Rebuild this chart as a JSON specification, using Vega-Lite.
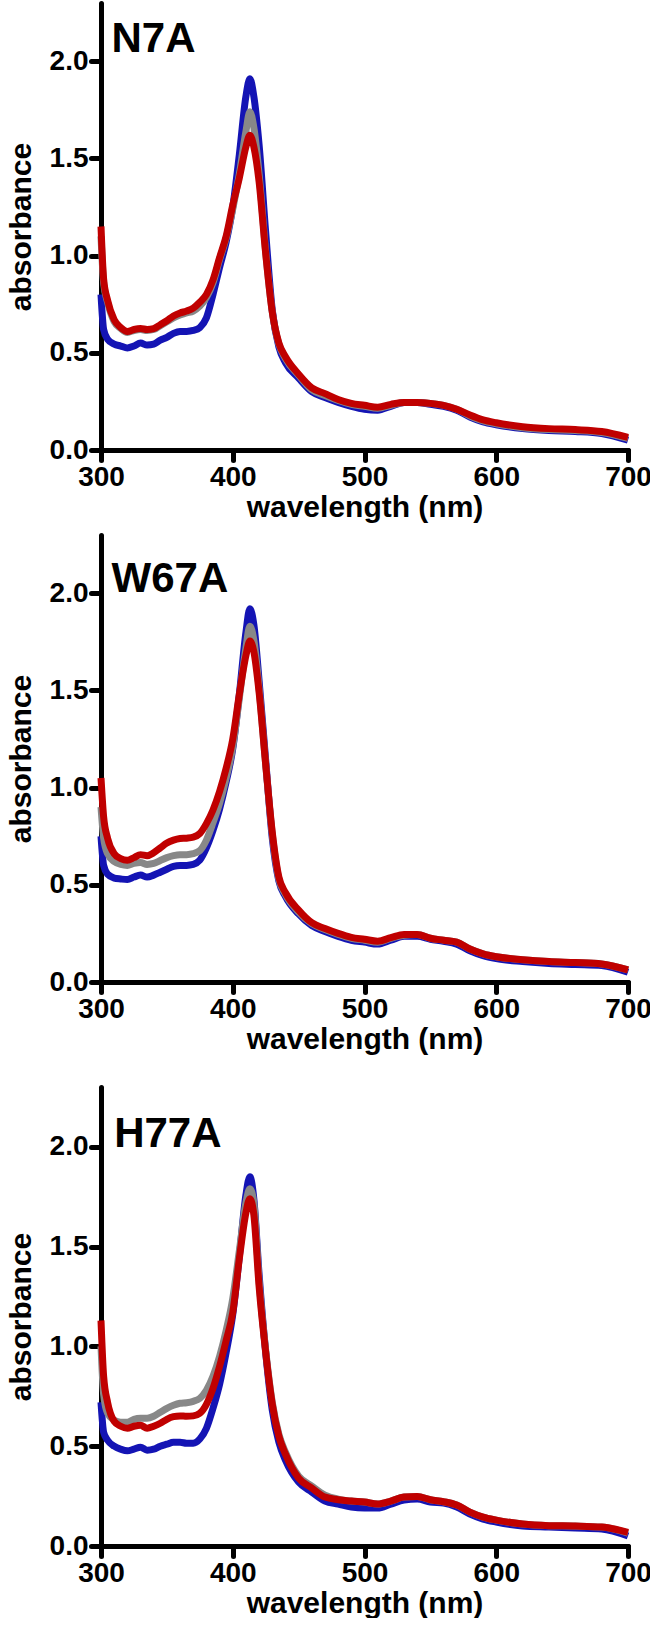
{
"$schema": "https://vega.github.io/schema/vega-lite/v6.json",
"padding": {"left": 6, "top": 3, "right": 0, "bottom": 0},
"background": "white",
"config": {
  "view": {"stroke": null},
  "font": "Liberation Sans",
  "axis": {"domainColor": "black", "domainWidth": 5, "tickColor": "black", "tickWidth": 5, "tickSize": 10, "labelFont": "Liberation Sans", "labelFontWeight": "bold", "labelFontSize": 28, "labelColor": "black", "labelFlush": false, "labelOverlap": false, "titleFont": "Liberation Sans", "titleFontWeight": "bold", "titleFontSize": 30, "titleColor": "black", "grid": false, "labelPadding": 3, "tickCap": "round", "domainCap": "round"},
  "axisX": {"titlePadding": 1},
  "axisY": {"titlePadding": 13},
  "line": {"strokeWidth": 7, "interpolate": "monotone"}
},
"datasets": {"spec": [
{"panel":"N7A","nm":300,"blue":0.80,"grey":1.10,"red":1.15},
{"panel":"N7A","nm":302,"blue":0.62,"grey":0.86,"red":0.88},
{"panel":"N7A","nm":305,"blue":0.57,"grey":0.76,"red":0.77},
{"panel":"N7A","nm":310,"blue":0.545,"grey":0.66,"red":0.67},
{"panel":"N7A","nm":315,"blue":0.535,"grey":0.625,"red":0.63},
{"panel":"N7A","nm":320,"blue":0.525,"grey":0.605,"red":0.61},
{"panel":"N7A","nm":325,"blue":0.535,"grey":0.615,"red":0.62},
{"panel":"N7A","nm":330,"blue":0.55,"grey":0.62,"red":0.625},
{"panel":"N7A","nm":335,"blue":0.54,"grey":0.615,"red":0.62},
{"panel":"N7A","nm":340,"blue":0.545,"grey":0.62,"red":0.625},
{"panel":"N7A","nm":345,"blue":0.565,"grey":0.64,"red":0.645},
{"panel":"N7A","nm":350,"blue":0.58,"grey":0.66,"red":0.665},
{"panel":"N7A","nm":355,"blue":0.60,"grey":0.68,"red":0.69},
{"panel":"N7A","nm":360,"blue":0.61,"grey":0.695,"red":0.705},
{"panel":"N7A","nm":365,"blue":0.61,"grey":0.705,"red":0.715},
{"panel":"N7A","nm":370,"blue":0.615,"grey":0.715,"red":0.73},
{"panel":"N7A","nm":375,"blue":0.63,"grey":0.74,"red":0.76},
{"panel":"N7A","nm":380,"blue":0.68,"grey":0.785,"red":0.80},
{"panel":"N7A","nm":385,"blue":0.80,"grey":0.86,"red":0.875},
{"panel":"N7A","nm":390,"blue":0.94,"grey":0.98,"red":0.99},
{"panel":"N7A","nm":395,"blue":1.07,"grey":1.09,"red":1.10},
{"panel":"N7A","nm":400,"blue":1.25,"grey":1.24,"red":1.26},
{"panel":"N7A","nm":405,"blue":1.52,"grey":1.42,"red":1.40},
{"panel":"N7A","nm":410,"blue":1.82,"grey":1.64,"red":1.56},
{"panel":"N7A","nm":413,"blue":1.91,"grey":1.74,"red":1.62},
{"panel":"N7A","nm":416,"blue":1.82,"grey":1.66,"red":1.56},
{"panel":"N7A","nm":420,"blue":1.57,"grey":1.42,"red":1.38},
{"panel":"N7A","nm":425,"blue":1.12,"grey":1.02,"red":1.01},
{"panel":"N7A","nm":430,"blue":0.72,"grey":0.71,"red":0.71},
{"panel":"N7A","nm":435,"blue":0.53,"grey":0.545,"red":0.55},
{"panel":"N7A","nm":440,"blue":0.45,"grey":0.47,"red":0.48},
{"panel":"N7A","nm":450,"blue":0.37,"grey":0.385,"red":0.39},
{"panel":"N7A","nm":460,"blue":0.30,"grey":0.31,"red":0.32},
{"panel":"N7A","nm":470,"blue":0.27,"grey":0.28,"red":0.29},
{"panel":"N7A","nm":480,"blue":0.245,"grey":0.255,"red":0.26},
{"panel":"N7A","nm":490,"blue":0.225,"grey":0.235,"red":0.24},
{"panel":"N7A","nm":500,"blue":0.21,"grey":0.225,"red":0.23},
{"panel":"N7A","nm":510,"blue":0.205,"grey":0.215,"red":0.22},
{"panel":"N7A","nm":520,"blue":0.225,"grey":0.23,"red":0.235},
{"panel":"N7A","nm":530,"blue":0.245,"grey":0.245,"red":0.245},
{"panel":"N7A","nm":540,"blue":0.245,"grey":0.245,"red":0.245},
{"panel":"N7A","nm":550,"blue":0.235,"grey":0.24,"red":0.24},
{"panel":"N7A","nm":560,"blue":0.225,"grey":0.23,"red":0.23},
{"panel":"N7A","nm":570,"blue":0.205,"grey":0.21,"red":0.21},
{"panel":"N7A","nm":580,"blue":0.17,"grey":0.175,"red":0.18},
{"panel":"N7A","nm":590,"blue":0.145,"grey":0.15,"red":0.155},
{"panel":"N7A","nm":600,"blue":0.13,"grey":0.135,"red":0.14},
{"panel":"N7A","nm":620,"blue":0.11,"grey":0.115,"red":0.12},
{"panel":"N7A","nm":640,"blue":0.10,"grey":0.105,"red":0.11},
{"panel":"N7A","nm":660,"blue":0.095,"grey":0.10,"red":0.105},
{"panel":"N7A","nm":680,"blue":0.085,"grey":0.09,"red":0.095},
{"panel":"N7A","nm":700,"blue":0.05,"grey":0.06,"red":0.065},
{"panel":"W67A","nm":300,"blue":0.75,"grey":0.90,"red":1.05},
{"panel":"W67A","nm":302,"blue":0.60,"grey":0.74,"red":0.85},
{"panel":"W67A","nm":305,"blue":0.555,"grey":0.66,"red":0.74},
{"panel":"W67A","nm":310,"blue":0.535,"grey":0.62,"red":0.66},
{"panel":"W67A","nm":315,"blue":0.53,"grey":0.605,"red":0.635},
{"panel":"W67A","nm":320,"blue":0.527,"grey":0.60,"red":0.627},
{"panel":"W67A","nm":325,"blue":0.54,"grey":0.61,"red":0.64},
{"panel":"W67A","nm":330,"blue":0.55,"grey":0.615,"red":0.655},
{"panel":"W67A","nm":335,"blue":0.54,"grey":0.605,"red":0.65},
{"panel":"W67A","nm":340,"blue":0.55,"grey":0.61,"red":0.665},
{"panel":"W67A","nm":345,"blue":0.565,"grey":0.625,"red":0.69},
{"panel":"W67A","nm":350,"blue":0.58,"grey":0.64,"red":0.715},
{"panel":"W67A","nm":355,"blue":0.595,"grey":0.65,"red":0.73},
{"panel":"W67A","nm":360,"blue":0.60,"grey":0.655,"red":0.738},
{"panel":"W67A","nm":365,"blue":0.60,"grey":0.655,"red":0.74},
{"panel":"W67A","nm":370,"blue":0.605,"grey":0.66,"red":0.745},
{"panel":"W67A","nm":375,"blue":0.627,"grey":0.676,"red":0.764},
{"panel":"W67A","nm":380,"blue":0.69,"grey":0.73,"red":0.815},
{"panel":"W67A","nm":385,"blue":0.78,"grey":0.82,"red":0.885},
{"panel":"W67A","nm":390,"blue":0.89,"grey":0.92,"red":0.98},
{"panel":"W67A","nm":395,"blue":1.03,"grey":1.05,"red":1.10},
{"panel":"W67A","nm":400,"blue":1.20,"grey":1.21,"red":1.25},
{"panel":"W67A","nm":405,"blue":1.48,"grey":1.46,"red":1.48},
{"panel":"W67A","nm":410,"blue":1.80,"grey":1.72,"red":1.68},
{"panel":"W67A","nm":413,"blue":1.92,"grey":1.83,"red":1.755},
{"panel":"W67A","nm":416,"blue":1.84,"grey":1.76,"red":1.70},
{"panel":"W67A","nm":420,"blue":1.55,"grey":1.51,"red":1.49},
{"panel":"W67A","nm":425,"blue":1.14,"grey":1.12,"red":1.12},
{"panel":"W67A","nm":430,"blue":0.74,"grey":0.76,"red":0.77},
{"panel":"W67A","nm":435,"blue":0.52,"grey":0.53,"red":0.54},
{"panel":"W67A","nm":440,"blue":0.44,"grey":0.45,"red":0.46},
{"panel":"W67A","nm":450,"blue":0.35,"grey":0.36,"red":0.37},
{"panel":"W67A","nm":460,"blue":0.29,"grey":0.30,"red":0.305},
{"panel":"W67A","nm":470,"blue":0.26,"grey":0.27,"red":0.275},
{"panel":"W67A","nm":480,"blue":0.235,"grey":0.245,"red":0.25},
{"panel":"W67A","nm":490,"blue":0.215,"grey":0.225,"red":0.23},
{"panel":"W67A","nm":500,"blue":0.205,"grey":0.215,"red":0.22},
{"panel":"W67A","nm":510,"blue":0.195,"grey":0.205,"red":0.21},
{"panel":"W67A","nm":520,"blue":0.215,"grey":0.225,"red":0.228},
{"panel":"W67A","nm":530,"blue":0.235,"grey":0.24,"red":0.245},
{"panel":"W67A","nm":540,"blue":0.235,"grey":0.245,"red":0.245},
{"panel":"W67A","nm":550,"blue":0.22,"grey":0.225,"red":0.225},
{"panel":"W67A","nm":560,"blue":0.21,"grey":0.215,"red":0.215},
{"panel":"W67A","nm":570,"blue":0.195,"grey":0.205,"red":0.205},
{"panel":"W67A","nm":580,"blue":0.16,"grey":0.17,"red":0.17},
{"panel":"W67A","nm":590,"blue":0.135,"grey":0.145,"red":0.145},
{"panel":"W67A","nm":600,"blue":0.12,"grey":0.13,"red":0.13},
{"panel":"W67A","nm":620,"blue":0.105,"grey":0.115,"red":0.115},
{"panel":"W67A","nm":640,"blue":0.095,"grey":0.105,"red":0.105},
{"panel":"W67A","nm":660,"blue":0.09,"grey":0.10,"red":0.10},
{"panel":"W67A","nm":680,"blue":0.085,"grey":0.093,"red":0.093},
{"panel":"W67A","nm":700,"blue":0.05,"grey":0.062,"red":0.062},
{"panel":"H77A","nm":300,"blue":0.72,"grey":1.0,"red":1.13},
{"panel":"H77A","nm":302,"blue":0.57,"grey":0.76,"red":0.85},
{"panel":"H77A","nm":305,"blue":0.53,"grey":0.665,"red":0.72},
{"panel":"H77A","nm":310,"blue":0.50,"grey":0.63,"red":0.625},
{"panel":"H77A","nm":315,"blue":0.485,"grey":0.62,"red":0.60},
{"panel":"H77A","nm":320,"blue":0.477,"grey":0.62,"red":0.59},
{"panel":"H77A","nm":325,"blue":0.485,"grey":0.635,"red":0.60},
{"panel":"H77A","nm":330,"blue":0.495,"grey":0.64,"red":0.605},
{"panel":"H77A","nm":335,"blue":0.48,"grey":0.64,"red":0.59},
{"panel":"H77A","nm":340,"blue":0.485,"grey":0.65,"red":0.60},
{"panel":"H77A","nm":345,"blue":0.50,"grey":0.67,"red":0.615},
{"panel":"H77A","nm":350,"blue":0.51,"grey":0.69,"red":0.635},
{"panel":"H77A","nm":355,"blue":0.52,"grey":0.705,"red":0.648},
{"panel":"H77A","nm":360,"blue":0.52,"grey":0.715,"red":0.652},
{"panel":"H77A","nm":365,"blue":0.515,"grey":0.718,"red":0.65},
{"panel":"H77A","nm":370,"blue":0.515,"grey":0.725,"red":0.652},
{"panel":"H77A","nm":375,"blue":0.536,"grey":0.74,"red":0.665},
{"panel":"H77A","nm":380,"blue":0.59,"grey":0.78,"red":0.71},
{"panel":"H77A","nm":385,"blue":0.69,"grey":0.85,"red":0.79},
{"panel":"H77A","nm":390,"blue":0.81,"grey":0.95,"red":0.90},
{"panel":"H77A","nm":395,"blue":0.97,"grey":1.08,"red":1.03},
{"panel":"H77A","nm":400,"blue":1.16,"grey":1.24,"red":1.17},
{"panel":"H77A","nm":405,"blue":1.45,"grey":1.48,"red":1.44},
{"panel":"H77A","nm":410,"blue":1.76,"grey":1.72,"red":1.67},
{"panel":"H77A","nm":413,"blue":1.85,"grey":1.79,"red":1.74},
{"panel":"H77A","nm":416,"blue":1.74,"grey":1.72,"red":1.66},
{"panel":"H77A","nm":420,"blue":1.36,"grey":1.33,"red":1.30},
{"panel":"H77A","nm":425,"blue":0.97,"grey":0.98,"red":0.97},
{"panel":"H77A","nm":430,"blue":0.68,"grey":0.72,"red":0.71},
{"panel":"H77A","nm":435,"blue":0.52,"grey":0.56,"red":0.55},
{"panel":"H77A","nm":440,"blue":0.43,"grey":0.47,"red":0.46},
{"panel":"H77A","nm":450,"blue":0.32,"grey":0.35,"red":0.34},
{"panel":"H77A","nm":460,"blue":0.27,"grey":0.30,"red":0.29},
{"panel":"H77A","nm":470,"blue":0.225,"grey":0.255,"red":0.245},
{"panel":"H77A","nm":480,"blue":0.21,"grey":0.235,"red":0.232},
{"panel":"H77A","nm":490,"blue":0.195,"grey":0.225,"red":0.225},
{"panel":"H77A","nm":500,"blue":0.19,"grey":0.22,"red":0.22},
{"panel":"H77A","nm":510,"blue":0.19,"grey":0.21,"red":0.21},
{"panel":"H77A","nm":520,"blue":0.21,"grey":0.225,"red":0.225},
{"panel":"H77A","nm":530,"blue":0.23,"grey":0.245,"red":0.245},
{"panel":"H77A","nm":540,"blue":0.235,"grey":0.248,"red":0.248},
{"panel":"H77A","nm":550,"blue":0.22,"grey":0.232,"red":0.232},
{"panel":"H77A","nm":560,"blue":0.215,"grey":0.222,"red":0.222},
{"panel":"H77A","nm":570,"blue":0.195,"grey":0.205,"red":0.205},
{"panel":"H77A","nm":580,"blue":0.16,"grey":0.17,"red":0.17},
{"panel":"H77A","nm":590,"blue":0.135,"grey":0.145,"red":0.145},
{"panel":"H77A","nm":600,"blue":0.12,"grey":0.13,"red":0.13},
{"panel":"H77A","nm":620,"blue":0.10,"grey":0.11,"red":0.11},
{"panel":"H77A","nm":640,"blue":0.095,"grey":0.102,"red":0.102},
{"panel":"H77A","nm":660,"blue":0.09,"grey":0.10,"red":0.10},
{"panel":"H77A","nm":680,"blue":0.085,"grey":0.095,"red":0.095},
{"panel":"H77A","nm":700,"blue":0.05,"grey":0.065,"red":0.068}
]},
"spacing": 33,
"vconcat": [
 {"spacing": 13, "vconcat": [
  {"width": 527, "height": 447, "data": {"name": "spec"},
   "transform": [{"filter": "datum.panel === 'N7A'"}],
   "layer": [
    {"mark": {"type": "line", "color": "#1414b4"}, "encoding": {"x": {"field": "nm", "type": "quantitative", "scale": {"domain": [300, 700], "nice": false}, "axis": {"values": [300, 400, 500, 600, 700], "title": "wavelength (nm)"}}, "y": {"field": "blue", "type": "quantitative", "title": "absorbance", "scale": {"domain": [0, 2.3], "nice": false}, "axis": {"values": [0, 0.5, 1, 1.5, 2], "format": ".1f"}}}},
    {"mark": {"type": "line", "color": "#888888"}, "encoding": {"x": {"field": "nm", "type": "quantitative", "title": "wavelength (nm)"}, "y": {"field": "grey", "type": "quantitative", "title": "absorbance"}}},
    {"mark": {"type": "line", "color": "#c00000"}, "encoding": {"x": {"field": "nm", "type": "quantitative", "title": "wavelength (nm)"}, "y": {"field": "red", "type": "quantitative", "title": "absorbance"}}},
    {"transform": [{"filter": "datum.nm === 300"}], "mark": {"type": "text", "align": "left", "baseline": "alphabetic", "fontSize": 42, "fontWeight": "bold", "font": "Liberation Sans", "color": "black"}, "encoding": {"x": {"datum": 308, "type": "quantitative"}, "y": {"datum": 2.05, "type": "quantitative"}, "text": {"field": "panel"}}}
   ]},
  {"width": 527, "height": 447, "data": {"name": "spec"},
   "transform": [{"filter": "datum.panel === 'W67A'"}],
   "layer": [
    {"mark": {"type": "line", "color": "#1414b4"}, "encoding": {"x": {"field": "nm", "type": "quantitative", "scale": {"domain": [300, 700], "nice": false}, "axis": {"values": [300, 400, 500, 600, 700], "title": "wavelength (nm)"}}, "y": {"field": "blue", "type": "quantitative", "title": "absorbance", "scale": {"domain": [0, 2.3], "nice": false}, "axis": {"values": [0, 0.5, 1, 1.5, 2], "format": ".1f"}}}},
    {"mark": {"type": "line", "color": "#888888"}, "encoding": {"x": {"field": "nm", "type": "quantitative", "title": "wavelength (nm)"}, "y": {"field": "grey", "type": "quantitative", "title": "absorbance"}}},
    {"mark": {"type": "line", "color": "#c00000"}, "encoding": {"x": {"field": "nm", "type": "quantitative", "title": "wavelength (nm)"}, "y": {"field": "red", "type": "quantitative", "title": "absorbance"}}},
    {"transform": [{"filter": "datum.nm === 300"}], "mark": {"type": "text", "align": "left", "baseline": "alphabetic", "fontSize": 42, "fontWeight": "bold", "font": "Liberation Sans", "color": "black"}, "encoding": {"x": {"datum": 308, "type": "quantitative"}, "y": {"datum": 2.005, "type": "quantitative"}, "text": {"field": "panel"}}}
   ]}
 ]},
 {"width": 527, "height": 459, "data": {"name": "spec"},
  "transform": [{"filter": "datum.panel === 'H77A'"}],
  "layer": [
   {"mark": {"type": "line", "color": "#1414b4"}, "encoding": {"x": {"field": "nm", "type": "quantitative", "scale": {"domain": [300, 700], "nice": false}, "axis": {"values": [300, 400, 500, 600, 700], "title": "wavelength (nm)"}}, "y": {"field": "blue", "type": "quantitative", "title": "absorbance", "scale": {"domain": [0, 2.3], "nice": false}, "axis": {"values": [0, 0.5, 1, 1.5, 2], "format": ".1f"}}}},
   {"mark": {"type": "line", "color": "#888888"}, "encoding": {"x": {"field": "nm", "type": "quantitative", "title": "wavelength (nm)"}, "y": {"field": "grey", "type": "quantitative", "title": "absorbance"}}},
   {"mark": {"type": "line", "color": "#c00000"}, "encoding": {"x": {"field": "nm", "type": "quantitative", "title": "wavelength (nm)"}, "y": {"field": "red", "type": "quantitative", "title": "absorbance"}}},
   {"transform": [{"filter": "datum.nm === 300"}], "mark": {"type": "text", "align": "left", "baseline": "alphabetic", "fontSize": 42, "fontWeight": "bold", "font": "Liberation Sans", "color": "black"}, "encoding": {"x": {"datum": 310, "type": "quantitative"}, "y": {"datum": 2.0, "type": "quantitative"}, "text": {"field": "panel"}}}
  ]}
]
}
